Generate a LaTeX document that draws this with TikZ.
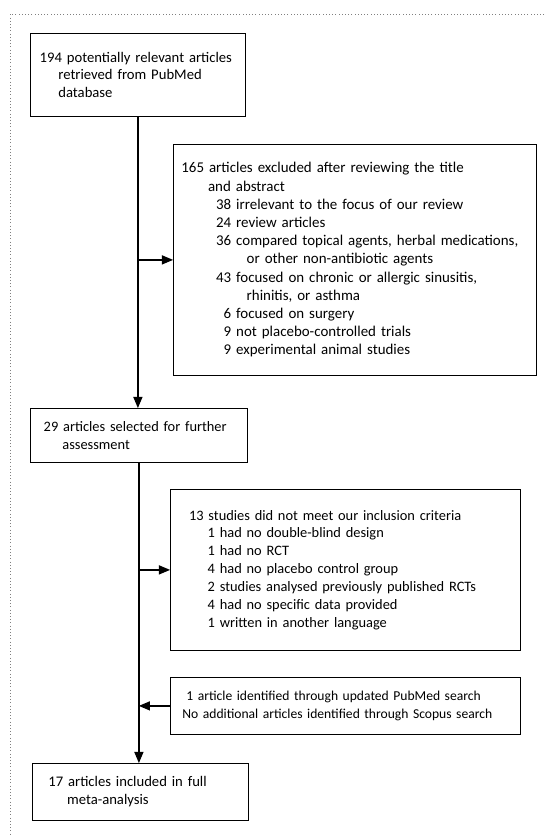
\documentclass[tikz,border=0pt]{standalone}
\usepackage{fontspec}
\setmainfont{Carlito}[WordSpace=0.85]
\usetikzlibrary{arrows,positioning}

\begin{document}
\begin{tikzpicture}[x=0.75pt,y=-0.75pt,
  box/.style={draw,line width=0.6pt,anchor=north west,align=left},
  flow/.style={-triangle 45,line width=0.9pt}]

\useasboundingbox (0,0) rectangle (544,836);
\draw[dotted,gray] (544,14) -- (10,14) -- (10,836);

\node[box,font=\fontsize{11}{13.4}\selectfont,inner xsep=7pt,text width=147.25pt,minimum height=62.25pt] (pubmed) at (30,33)
  {194 potentially relevant articles\\
   \hspace*{14pt}retrieved from PubMed\\
   \hspace*{14pt}database};

\node[box,font=\fontsize{11.2}{13.65}\selectfont,inner xsep=6pt,text width=260.25pt,minimum height=173.25pt] (excl1) at (173,144)
  {165 articles excluded after reviewing the title\\
   \hspace*{20pt}and abstract\\
   \hspace*{26pt}38 irrelevant to the focus of our review\\
   \hspace*{26pt}24 review articles\\
   \hspace*{26pt}36 compared topical agents, herbal medications,\\
   \hspace*{49pt}or other non-antibiotic agents\\
   \hspace*{26pt}43 focused on chronic or allergic sinusitis,\\
   \hspace*{49pt}rhinitis, or asthma\\
   \hspace*{26pt}\phantom{0}6 focused on surgery\\
   \hspace*{26pt}\phantom{0}9 not placebo-controlled trials\\
   \hspace*{26pt}\phantom{0}9 experimental animal studies};

\node[box,font=\fontsize{10.8}{13.4}\selectfont,inner xsep=10pt,text width=142.75pt,minimum height=40.5pt] (select) at (30,408)
  {29 articles selected for further\\
   \hspace*{14pt}assessment};

\node[box,font=\fontsize{10.8}{13.4}\selectfont,inner xsep=14pt,text width=234.5pt,minimum height=120.75pt] (excl2) at (170,489)
  {13 studies did not meet our inclusion criteria\\
   \hspace*{14pt}1 had no double-blind design\\
   \hspace*{14pt}1 had no RCT\\
   \hspace*{14pt}4 had no placebo control group\\
   \hspace*{14pt}2 studies analysed previously published RCTs\\
   \hspace*{14pt}4 had no specific data provided\\
   \hspace*{14pt}1 written in another language};

\node[box,font=\fontsize{10.2}{13.4}\selectfont,inner xsep=9pt,text width=244.5pt,minimum height=42.75pt] (update) at (170,677)
  {\hspace*{3pt}1 article identified through updated PubMed search\\
   No additional articles identified through Scopus search};

\node[box,font=\fontsize{11}{13.4}\selectfont,inner xsep=12pt,text width=138pt,minimum height=42.75pt] (incl) at (32,763)
  {17 articles included in full\\
   \hspace*{14pt}meta-analysis};

\draw[flow] (pubmed.south) -- (pubmed.south |- select.north);
\draw[flow] (select.south) -- (select.south |- incl.north);

\path[flow] (pubmed.south |- excl1.west) edge (excl1.west);
\path[flow] (select.south |- excl2.west) edge (excl2.west);
\path[flow] (update.west) edge (update.west -| select.south);

\end{tikzpicture}
\end{document}
